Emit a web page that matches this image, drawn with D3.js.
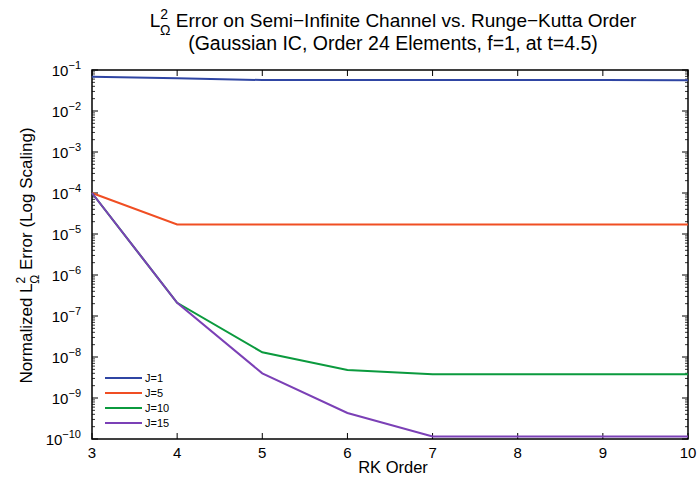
<!DOCTYPE html>
<html>
<head>
<meta charset="utf-8">
<script src="https://cdn.jsdelivr.net/npm/d3@7"></script>
<style>
  body { margin: 0; background: #fff; }
  text { font-family: "Liberation Sans", Arial, sans-serif; fill: #000; }
</style>
</head>
<body>
<div id="chart"></div>
<script>
const width = 699;
const height = 484;

// RK order on the x axis
const rkOrders = [3, 4, 5, 6, 7, 8, 9, 10];

// error values, one array per J
const errJ1 = [0.068, 0.063, 0.057, 0.057, 0.057, 0.057, 0.057, 0.056];
const errJ5 = [1.0e-4, 1.7e-5, 1.7e-5, 1.7e-5, 1.7e-5, 1.7e-5, 1.7e-5, 1.7e-5];
const errJ10 = [1.0e-4, 2.1e-7, 1.3e-8, 4.8e-9, 3.8e-9, 3.8e-9, 3.8e-9, 3.8e-9];
const errJ15 = [1.0e-4, 2.1e-7, 4.0e-9, 4.3e-10, 1.15e-10, 1.15e-10, 1.15e-10, 1.15e-10];

const seriesNames = ["J=1", "J=5", "J=10", "J=15"];
const seriesColors = ["#2f45a3", "#f04e23", "#0b9a3e", "#7b40b6"];
const seriesValues = [errJ1, errJ5, errJ10, errJ15];

const yExponents = [-1, -2, -3, -4, -5, -6, -7, -8, -9, -10];

const margin = { top: 70, right: 11, bottom: 45, left: 92 };
const plotW = width - margin.left - margin.right;
const plotH = height - margin.top - margin.bottom;

const svg = d3.select("#chart").append("svg")
    .attr("width", width)
    .attr("height", height);

const x = d3.scaleLinear().domain([3, 10]).range([0, plotW]);
const y = d3.scaleLog().domain([1e-10, 1e-1]).range([plotH, 0]);

const g = svg.append("g")
    .attr("transform", `translate(${margin.left},${margin.top})`);

// minor log ticks (2..9 in every decade)
const minor = [];
for (let e = -10; e < -1; e++) {
    for (let m = 2; m <= 9; m++) minor.push(m * Math.pow(10, e));
}

// tick marks point inward on all four sides
function yTicks(xPos, dir) {
    g.selectAll(null)
        .data(minor)
        .enter().append("line")
        .attr("x1", xPos).attr("x2", xPos + dir * 3)
        .attr("y1", d => y(d)).attr("y2", d => y(d))
        .attr("stroke", "#000").attr("stroke-width", 0.8);
    g.selectAll(null)
        .data(yExponents.map(e => Math.pow(10, e)))
        .enter().append("line")
        .attr("x1", xPos).attr("x2", xPos + dir * 6)
        .attr("y1", d => y(d)).attr("y2", d => y(d))
        .attr("stroke", "#000").attr("stroke-width", 1);
}
yTicks(0, 1);
yTicks(plotW, -1);

function xTicks(yPos, dir) {
    g.selectAll(null)
        .data(rkOrders)
        .enter().append("line")
        .attr("x1", d => x(d)).attr("x2", d => x(d))
        .attr("y1", yPos).attr("y2", yPos + dir * 6)
        .attr("stroke", "#000").attr("stroke-width", 1);
}
xTicks(0, 1);
xTicks(plotH, -1);

// frame
g.append("rect")
    .attr("width", plotW)
    .attr("height", plotH)
    .attr("fill", "none")
    .attr("stroke", "#000")
    .attr("stroke-width", 1.5);

// x tick labels
g.selectAll(".xl")
    .data(rkOrders)
    .enter().append("text")
    .attr("x", d => x(d))
    .attr("y", plotH + 19)
    .attr("text-anchor", "middle")
    .attr("font-size", 15)
    .text(d => d);

// y tick labels: 10 with superscript exponent
const yl = g.selectAll(".yl")
    .data(yExponents)
    .enter().append("text")
    .attr("x", -11)
    .attr("y", d => y(Math.pow(10, d)) + 6)
    .attr("text-anchor", "end")
    .attr("font-size", 15);
yl.append("tspan").text("10");
yl.append("tspan")
    .attr("dy", -7)
    .attr("font-size", 11)
    .text(d => "\u2212" + Math.abs(d));

// lines
const line = d3.line()
    .x((d, i) => x(rkOrders[i]))
    .y(d => y(d));

seriesValues.forEach((vals, k) => {
    g.append("path")
        .datum(vals)
        .attr("d", line)
        .attr("fill", "none")
        .attr("stroke", seriesColors[k])
        .attr("stroke-width", 2);
});

// legend
const legend = g.append("g").attr("transform", "translate(13,308)");
seriesNames.forEach((name, k) => {
    const row = legend.append("g").attr("transform", `translate(0,${k * 15})`);
    row.append("line")
        .attr("x1", 0).attr("x2", 37)
        .attr("y1", 0).attr("y2", 0)
        .attr("stroke", seriesColors[k])
        .attr("stroke-width", 2);
    row.append("text")
        .attr("x", 40)
        .attr("y", 4)
        .attr("font-size", 11)
        .text(name);
});

// title
const cx = margin.left + plotW / 2 + 3;
const t1 = svg.append("text")
    .attr("x", cx)
    .attr("y", 27)
    .attr("text-anchor", "middle")
    .attr("font-size", 19);
t1.append("tspan").text("L");
t1.append("tspan").attr("font-size", 14).attr("dy", -8).text("2");
t1.append("tspan").attr("font-size", 14).attr("dx", -8).attr("dy", 16).text("\u03A9");
t1.append("tspan").attr("dy", -8).text(" Error on Semi\u2212Infinite Channel vs. Runge\u2212Kutta Order");

svg.append("text")
    .attr("x", cx)
    .attr("y", 50)
    .attr("text-anchor", "middle")
    .attr("font-size", 19.5)
    .text("(Gaussian IC, Order 24 Elements, f=1, at t=4.5)");

// x label
svg.append("text")
    .attr("x", cx)
    .attr("y", 473)
    .attr("text-anchor", "middle")
    .attr("font-size", 16.5)
    .text("RK Order");

// y label
const ylab = svg.append("text")
    .attr("transform", `translate(32,${margin.top + plotH / 2 + 1}) rotate(-90)`)
    .attr("text-anchor", "middle")
    .attr("font-size", 17);
ylab.append("tspan").text("Normalized L");
ylab.append("tspan").attr("font-size", 12).attr("dy", -7).text("2");
ylab.append("tspan").attr("font-size", 12).attr("dx", -7).attr("dy", 14).text("\u03A9");
ylab.append("tspan").attr("dy", -7).text(" Error (Log Scaling)");
</script>
</body>
</html>
